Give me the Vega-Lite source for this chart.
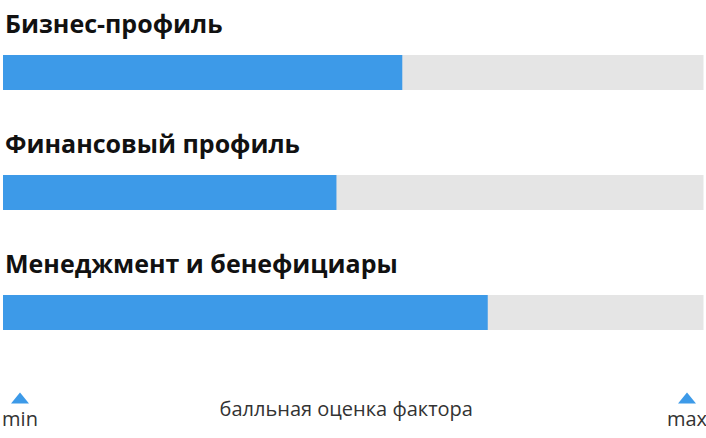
{
  "$schema": "https://vega.github.io/schema/vega-lite/v6.json",
  "width": 706,
  "height": 438,
  "autosize": {"type": "fit", "contains": "padding"},
  "padding": 0,
  "background": "#ffffff",
  "config": {"view": {"stroke": null}},
  "datasets": {
    "factors": [
      {"row": 1, "factor": "Бизнес-профиль", "score": 57.0},
      {"row": 2, "factor": "Финансовый профиль", "score": 47.6},
      {"row": 3, "factor": "Менеджмент и бенефициары", "score": 69.2}
    ],
    "footer": [
      {"row": 4, "pos": 0, "label": "min"},
      {"row": 4, "pos": 100, "label": "max"},
      {"row": 4, "pos": 50, "label": "балльная оценка фактора"}
    ]
  },
  "layer": [
    {
      "data": {"name": "factors"},
      "mark": {"type": "bar", "orient": "horizontal", "size": 35, "color": "#e5e5e5"},
      "encoding": {
        "x": {"datum": 100, "type": "quantitative", "scale": {"domain": [0, 100], "range": [3, 703.5], "nice": false, "padding": 0}, "axis": null},
        "y": {"field": "row", "type": "quantitative", "scale": {"domain": [1, 4], "range": [72.5, 432.5], "nice": false, "zero": false, "padding": 0}, "axis": null}
      }
    },
    {
      "data": {"name": "factors"},
      "mark": {"type": "bar", "orient": "horizontal", "size": 35, "color": "#3d9ae8"},
      "encoding": {
        "x": {"field": "score", "type": "quantitative"},
        "y": {"field": "row", "type": "quantitative"}
      }
    },
    {
      "data": {"name": "factors"},
      "mark": {"type": "text", "align": "left", "baseline": "alphabetic", "dx": 2, "dy": -39.5, "font": "Open Sans", "fontSize": 25, "fontWeight": "bold", "color": "#111111"},
      "encoding": {
        "x": {"datum": 0, "type": "quantitative"},
        "y": {"field": "row", "type": "quantitative"},
        "text": {"field": "factor", "type": "nominal"}
      }
    },
    {
      "data": {"name": "footer"},
      "transform": [{"filter": "datum.label === 'min'"}],
      "mark": {"type": "point", "shape": "M0,-0.61L1,0.61L-1,0.61Z", "size": 324, "filled": true, "opacity": 1, "color": "#3d9ae8", "xOffset": 17, "yOffset": -34.5},
      "encoding": {"x": {"field": "pos", "type": "quantitative"}, "y": {"field": "row", "type": "quantitative"}}
    },
    {
      "data": {"name": "footer"},
      "transform": [{"filter": "datum.label === 'max'"}],
      "mark": {"type": "point", "shape": "M0,-0.61L1,0.61L-1,0.61Z", "size": 324, "filled": true, "opacity": 1, "color": "#3d9ae8", "xOffset": -16.5, "yOffset": -34.5},
      "encoding": {"x": {"field": "pos", "type": "quantitative"}, "y": {"field": "row", "type": "quantitative"}}
    },
    {
      "data": {"name": "footer"},
      "transform": [{"filter": "datum.label === 'min'"}],
      "mark": {"type": "text", "align": "center", "baseline": "alphabetic", "dx": 17, "dy": -7, "font": "Open Sans", "fontSize": 20, "color": "#333333"},
      "encoding": {"x": {"field": "pos", "type": "quantitative"}, "y": {"field": "row", "type": "quantitative"}, "text": {"field": "label", "type": "nominal"}}
    },
    {
      "data": {"name": "footer"},
      "transform": [{"filter": "datum.label === 'max'"}],
      "mark": {"type": "text", "align": "center", "baseline": "alphabetic", "dx": -16.5, "dy": -7, "font": "Open Sans", "fontSize": 20, "color": "#333333"},
      "encoding": {"x": {"field": "pos", "type": "quantitative"}, "y": {"field": "row", "type": "quantitative"}, "text": {"field": "label", "type": "nominal"}}
    },
    {
      "data": {"name": "footer"},
      "transform": [{"filter": "datum.label !== 'min' && datum.label !== 'max'"}],
      "mark": {"type": "text", "align": "center", "baseline": "alphabetic", "dx": -7, "dy": -16.5, "font": "Open Sans", "fontSize": 20, "color": "#333333"},
      "encoding": {"x": {"field": "pos", "type": "quantitative"}, "y": {"field": "row", "type": "quantitative"}, "text": {"field": "label", "type": "nominal"}}
    }
  ]
}
